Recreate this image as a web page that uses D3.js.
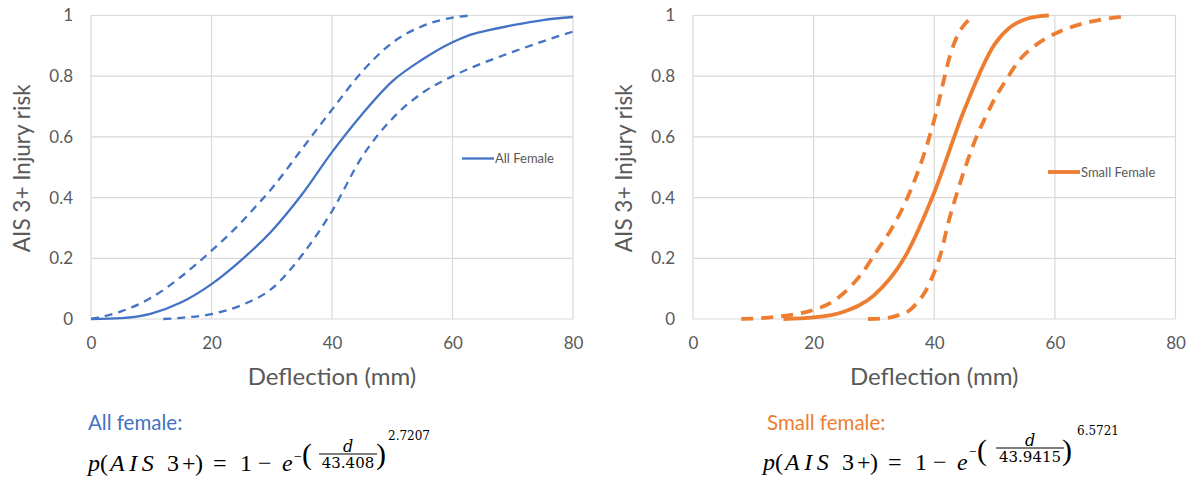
<!DOCTYPE html>
<html>
<head>
<meta charset="utf-8">
<script src="https://cdn.jsdelivr.net/npm/d3@7"></script>
<style>
  html, body { margin: 0; padding: 0; background: #fff; }
  svg { display: block; }
  .lato { font-family: Lato, "Noto Sans", sans-serif; }
  .math { font-family: "Liberation Serif", "DejaVu Serif", serif; fill: #000; }
  .mnum { font-family: "DejaVu Serif", "Liberation Serif", serif; fill: #000; }
</style>
</head>
<body>
<svg id="chart" width="1193" height="483"></svg>
<script>
// Axis ticks
const xTicks = [0, 20, 40, 60, 80];
const yTicks = [0, 0.2, 0.4, 0.6, 0.8, 1];
const yTickLabels = ["0", "0.2", "0.4", "0.6", "0.8", "1"];

// All female: injury risk vs deflection (mm), with lower / upper bounds
const allD        = [0, 5, 10, 15, 20, 25, 30, 35, 40, 45, 50, 55, 60, 62.5, 65, 70, 75, 80];
const allRisk     = [0, 0.003, 0.018, 0.055, 0.115, 0.195, 0.29, 0.41, 0.55, 0.675, 0.783, 0.855, 0.912, 0.933, 0.947, 0.968, 0.985, 0.995];
const allUpperD   = [0, 5, 10, 15, 20, 25, 28, 30, 35, 40, 45, 50, 55, 60, 63];
const allUpper    = [0, 0.025, 0.07, 0.14, 0.225, 0.32, 0.385, 0.43, 0.56, 0.69, 0.815, 0.91, 0.965, 0.993, 1.0];
const allLowerD   = [12, 15, 20, 25, 30, 35, 40, 45, 50, 55, 60, 65, 70, 75, 80];
const allLower    = [0, 0.004, 0.016, 0.046, 0.10, 0.21, 0.355, 0.535, 0.66, 0.745, 0.80, 0.843, 0.88, 0.915, 0.947];

// Small female: injury risk vs deflection (mm), with lower / upper bounds
const smallD      = [15, 20, 25, 30, 35, 40, 45, 50, 52.5, 55, 57.5, 59];
const smallRisk   = [0, 0.005, 0.024, 0.078, 0.20, 0.417, 0.69, 0.905, 0.96, 0.987, 0.998, 1.0];
const smallUpperD = [8, 12, 15, 20, 23, 25.5, 28, 30.5, 33, 36, 38, 39.5, 40.5, 41.5, 42.5, 44, 45, 46, 46.5];
const smallUpper  = [0, 0.004, 0.01, 0.03, 0.055, 0.095, 0.15, 0.225, 0.30, 0.42, 0.525, 0.62, 0.695, 0.78, 0.86, 0.94, 0.97, 0.99, 1.0];
const smallLowerD = [29, 32, 34, 36, 37, 38.5, 39.5, 41, 42.5, 44, 45.5, 47, 48.5, 50, 52, 54, 57, 60, 64, 68, 72];
const smallLower  = [0, 0.003, 0.012, 0.03, 0.05, 0.09, 0.13, 0.21, 0.33, 0.43, 0.52, 0.60, 0.665, 0.725, 0.79, 0.85, 0.905, 0.94, 0.97, 0.988, 0.997];

const svg = d3.select("#chart");
const textGrey = "#595959";
const gridGrey = "#d9d9d9";

function zip(xs, ys) { return xs.map((d, i) => ({ d, p: ys[i] })); }

function drawPanel(cfg) {
  const g = svg.append("g");
  const x = d3.scaleLinear().domain([0, 80]).range([cfg.left, cfg.right]);
  const y = d3.scaleLinear().domain([0, 1]).range([cfg.bottom, cfg.top]);

  // grid
  g.append("g").selectAll("line").data(yTicks).join("line")
    .attr("x1", cfg.left).attr("x2", cfg.right)
    .attr("y1", d => y(d)).attr("y2", d => y(d))
    .attr("stroke", gridGrey).attr("stroke-width", 1.2);
  g.append("g").selectAll("line").data(xTicks).join("line")
    .attr("y1", cfg.top).attr("y2", cfg.bottom)
    .attr("x1", d => x(d)).attr("x2", d => x(d))
    .attr("stroke", gridGrey).attr("stroke-width", 1.2);

  // axes
  const ya = g.append("g").attr("transform", `translate(${cfg.left},0)`)
    .call(d3.axisLeft(y).tickValues(yTicks).tickFormat((d, i) => yTickLabels[i]).tickSize(0).tickPadding(18));
  const xa = g.append("g").attr("transform", `translate(0,${cfg.bottom})`)
    .call(d3.axisBottom(x).tickValues(xTicks).tickFormat(d3.format("d")).tickSize(0).tickPadding(18));
  [ya, xa].forEach(a => {
    a.select(".domain").remove();
    a.selectAll("text").attr("class", "lato").attr("font-size", 17).attr("fill", textGrey);
  });

  // axis titles
  g.append("text").attr("class", "lato")
    .attr("x", (cfg.left + cfg.right) / 2).attr("y", 385)
    .attr("text-anchor", "middle").attr("font-size", 24).attr("fill", textGrey)
    .text("Deflection (mm)");
  g.append("text").attr("class", "lato")
    .attr("transform", `translate(${cfg.left - 61},${(cfg.top + cfg.bottom) / 2 + 1}) rotate(-90)`)
    .attr("text-anchor", "middle").attr("font-size", 22.5).attr("fill", textGrey)
    .text("AIS 3+ Injury risk");

  // curves
  const line = d3.line().x(d => x(d.d)).y(d => y(d.p)).curve(d3.curveMonotoneX);
  const series = [
    { data: zip(cfg.upperD, cfg.upper), dash: cfg.dash },
    { data: zip(cfg.lowerD, cfg.lower), dash: cfg.dash },
    { data: zip(cfg.midD, cfg.mid), dash: null }
  ];
  g.append("g").selectAll("path").data(series).join("path")
    .attr("d", s => line(s.data))
    .attr("fill", "none")
    .attr("stroke", cfg.color)
    .attr("stroke-width", cfg.width)
    .attr("stroke-dasharray", s => s.dash);

  // legend
  const lg = g.append("g").attr("transform", `translate(${cfg.legendX},${cfg.legendY})`);
  lg.append("line").attr("x1", 0).attr("x2", 32).attr("y1", 0).attr("y2", 0)
    .attr("stroke", cfg.color).attr("stroke-width", cfg.width);
  lg.append("text").attr("class", "lato").attr("x", 33).attr("y", 4.7)
    .attr("font-size", 13).attr("fill", textGrey).text(cfg.name);
}

drawPanel({
  left: 91, right: 573, top: 15.5, bottom: 319,
  color: "#4472C4", width: 2.3, dash: "8,6",
  midD: allD, mid: allRisk, upperD: allUpperD, upper: allUpper, lowerD: allLowerD, lower: allLower,
  name: "All Female", legendX: 462, legendY: 158.5
});
drawPanel({
  left: 693, right: 1175.5, top: 15.5, bottom: 319,
  color: "#ED7D31", width: 3.8, dash: "12,8",
  midD: smallD, mid: smallRisk, upperD: smallUpperD, upper: smallUpper, lowerD: smallLowerD, lower: smallLower,
  name: "Small Female", legendX: 1048, legendY: 172
});

// Weibull risk formulas under each chart
function drawFormula(f) {
  const g = svg.append("g");
  g.append("text").attr("class", "lato").attr("x", f.labelX).attr("y", 430)
    .attr("font-size", 20.5).attr("fill", f.color).text(f.label);

  const B = f.baseline, x0 = f.x0;
  // [text, offset, italic, letter spacing]
  const pieces = [
    ["p", 0, true, 0], ["(", 12, false, 0], ["AIS", 22, true, 4.5], ["3", 79, false, 0],
    ["+", 94, false, 0], [")", 107, false, 0], ["=", 125, false, 0], ["1", 152, false, 0],
    ["\u2212", 170, false, 0], ["e", 194, true, 0]
  ];
  pieces.forEach(([t, dx, it, ls]) => {
    g.append("text").attr("class", "math").attr("x", x0 + dx).attr("y", B)
      .attr("font-size", 24).attr("font-style", it ? "italic" : "normal")
      .attr("letter-spacing", ls).text(t);
  });

  const s = f.sup;
  g.append("text").attr("class", "math").attr("x", s.minusX).attr("y", s.minusY)
    .attr("font-size", 14).text("\u2212");
  g.append("text").attr("class", "math").attr("x", s.lpX).attr("y", s.parenY)
    .attr("font-size", 30).text("(");
  g.append("text").attr("class", "math").attr("x", s.rpX).attr("y", s.parenY)
    .attr("font-size", 30).text(")");
  g.append("line").attr("x1", s.fracX1).attr("x2", s.fracX2).attr("y1", s.fracY).attr("y2", s.fracY)
    .attr("stroke", "#000").attr("stroke-width", 1.1);
  g.append("text").attr("class", "mnum").attr("x", (s.fracX1 + s.fracX2) / 2).attr("y", s.fracY - 2.5)
    .attr("text-anchor", "middle").attr("font-size", 16).attr("font-style", "italic").text("d");
  g.append("text").attr("class", "mnum").attr("x", (s.fracX1 + s.fracX2) / 2).attr("y", s.fracY + 14)
    .attr("text-anchor", "middle").attr("font-size", 15).text(f.scale);
  g.append("text").attr("class", "mnum").attr("x", s.expX).attr("y", s.expY)
    .attr("font-size", 12).text(f.shape);
}

drawFormula({
  label: "All female:", color: "#4472C4", labelX: 88, x0: 88, baseline: 471,
  scale: "43.408", shape: "2.7207",
  sup: { minusX: 294, minusY: 461, lpX: 302, rpX: 376, parenY: 464, fracX1: 319, fracX2: 377, fracY: 454, expX: 388, expY: 440 }
});
drawFormula({
  label: "Small female:", color: "#ED7D31", labelX: 767, x0: 763, baseline: 470,
  scale: "43.9415", shape: "6.5721",
  sup: { minusX: 969, minusY: 456, lpX: 977, rpX: 1062, parenY: 460, fracX1: 996, fracX2: 1064, fracY: 448, expX: 1077, expY: 435 }
});
</script>
</body>
</html>
